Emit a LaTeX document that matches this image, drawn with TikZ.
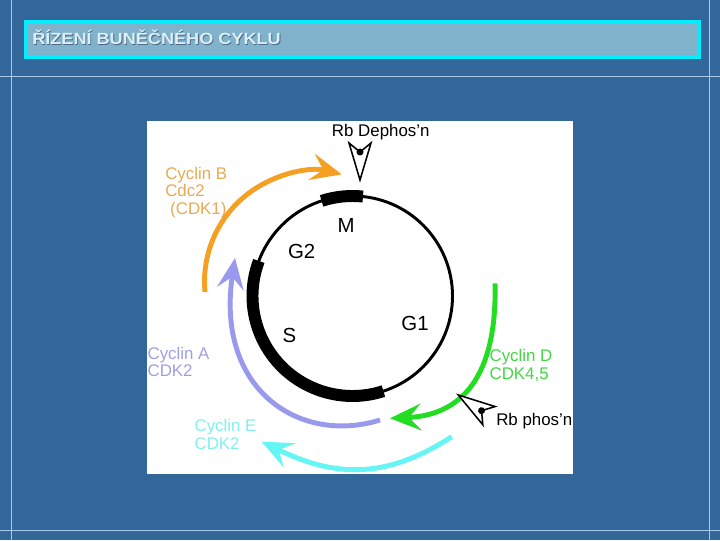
\documentclass[tikz,border=0pt]{standalone}
\usepackage{fontspec}
\usepackage{graphicx}
\setmainfont{Liberation Sans}
\usetikzlibrary{arrows.meta,positioning}
\definecolor{fond}{RGB}{51,102,153}
\definecolor{trait}{RGB}{170,200,235}
\definecolor{bandeau}{RGB}{128,178,204}
\definecolor{cyanbord}{RGB}{0,238,255}
\definecolor{titre}{RGB}{220,238,246}
\definecolor{ombre}{RGB}{75,105,135}
\definecolor{orangeB}{RGB}{245,160,35}
\definecolor{orangeBt}{RGB}{232,170,85}
\definecolor{lilasA}{RGB}{153,153,238}
\definecolor{lilasAt}{RGB}{160,160,225}
\definecolor{cyanE}{RGB}{102,245,245}
\definecolor{cyanEt}{RGB}{130,240,240}
\definecolor{vertD}{RGB}{34,221,34}
\definecolor{vertDt}{RGB}{68,215,68}
\tikzset{
    titlebox/.style={
    draw=cyanbord,fill=bandeau,line width=2.8pt
    },
    titletxt/.style={
    font=\bfseries\fontsize{11.5}{13}\selectfont,anchor=base west,inner sep=0pt
    },
    phase/.style={draw=black, line width=2.1pt},
    phasebar/.style={draw=black, line width=8.5pt},
    phaselbl/.style={font=\fontsize{14.5}{16}\selectfont, inner sep=0pt},
  cyclin/.style={line width=3.5pt, -{Stealth[length=22pt,width=19pt,inset=8.5pt]}},
  cyclbl/.style={font=\fontsize{12}{12.6}\selectfont, align=left, anchor=north west, inner sep=0pt},
  rblbl/.style={font=\fontsize{12}{13}\selectfont, anchor=north west, inner sep=0pt},
  rbsign/.pic={
    \filldraw[fill=white,draw=black,line width=1.1pt,line join=miter]
      (0,0) -- (-37,11) -- (-28,0) -- (-37,-11) -- cycle;
    \fill[black] (-28,0) circle[radius=3.5];
  }
}

\begin{document}
\begin{tikzpicture}[x=0.025cm,y=0.025cm]
    \useasboundingbox (0,0) rectangle (720,540);
    \fill[fond] (0,0) rectangle (720,540);
    \draw[trait,line width=0.6pt] (11,0) -- (11,540) (709,0) -- (709,540)
      (0,464) -- (720,464) (0,10) -- (720,10);

    % bandeau du titre
    \draw[titlebox] (26,483) rectangle (699,518);
    \node[titletxt,ombre] (titreombre) at (32.8,494.3) {\scalebox{1.12}[1]{ŘÍZENÍ BUNĚČNÉHO CYKLU}};
    \node[titletxt,titre] (titre) at (32,495) {\scalebox{1.12}[1]{ŘÍZENÍ BUNĚČNÉHO CYKLU}};

    % le schema
    \fill[white] (147,66) rectangle (573,419);
    \coordinate (cc) at (352.5,244);
    \draw[phase] (cc) circle[radius=100];
    \draw[phasebar] ([shift={(84:100)}]cc) arc[start angle=84, end angle=108, radius=100];
    \draw[phasebar] ([shift={(159.5:100)}]cc) arc[start angle=159.5, end angle=288, radius=100];

    \node[phaselbl] (M) at (346,315) {M};
    \node[phaselbl] (G2) at (301.7,288.3) {G2};
    \node[phaselbl] (S) at (289.3,205) {S};
    \node[phaselbl] (G1) at (415,216.7) {G1};

    \coordinate (bdeb) at (205,248);
    \coordinate (adeb) at (380,120);   \coordinate (afin) at (235,282);
    \coordinate (ddeb) at (495,256.7); \coordinate (dfin) at (390,121.7);
    \coordinate (edeb) at (451.7,103.3); \coordinate (efin) at (261.7,98.3);

    \draw[cyclin,lilasA] (adeb) .. controls (300,95) and (215,150) .. (afin);
    \draw[cyclin,orangeB] (bdeb) arc[start angle=185.4, end angle=76, radius=110.5];
    \draw[cyclin,cyanE] (edeb) .. controls (384.6,59.7) and (333.6,63.3) .. (efin);
    \draw[cyclin,vertD] (ddeb) .. controls (497,175) and (470,125) .. (dfin);

    \node[cyclbl,orangeBt] (cycB) at (165,373.3) {Cyclin B\\Cdc2\\\hspace*{3.5pt}(CDK1)};
    \node[cyclbl,lilasAt] (cycA) at (147.3,193.3) {Cyclin A\\CDK2};
    \node[cyclbl,cyanEt] (cycE) at (194.3,120.7) {Cyclin E\\CDK2};
    \node[cyclbl,vertDt] (cycD) at (489.3,190.7) {Cyclin D\\CDK4,5};

    \pic[rotate=270] at (360,360) {rbsign};
    \pic[rotate=146] at (458.3,145) {rbsign};
    \node[rblbl] (dephos) at (331.7,416) {Rb Dephos’n};
    \node[rblbl] (phos) at (496,126.7) {Rb phos’n};
\end{tikzpicture}
\end{document}
